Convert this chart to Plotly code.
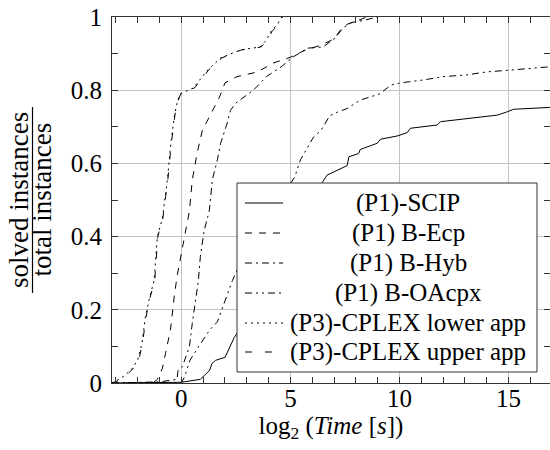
import plotly.graph_objects as go

# ---- data (log2 time, fraction solved) ----
scip_x = [-3.2, 0.0, 0.87, 1.3, 1.4, 1.57, 2.0, 2.25, 2.43, 2.57, 3.5, 4.5, 5.5, 6.45, 6.68, 7.6, 7.68, 8.13, 8.2, 8.98, 9.13, 9.9, 10.35, 10.5, 11.73, 11.88, 13.1, 14.5, 14.94, 15.24, 16.93]
scip_y = [0.0, 0.002, 0.01, 0.035, 0.053, 0.062, 0.07, 0.1, 0.125, 0.137, 0.25, 0.36, 0.46, 0.547, 0.568, 0.594, 0.618, 0.627, 0.638, 0.655, 0.666, 0.675, 0.684, 0.696, 0.705, 0.714, 0.723, 0.732, 0.741, 0.748, 0.753]

ecp_x = [-3.2, -1.3, -1.1, -0.87, -0.73, -0.5, -0.33, -0.2, -0.03, 0.14, 0.37, 0.5, 0.73, 0.96, 1.28, 1.5, 1.74, 2.0, 2.55, 3.5, 4.2, 5.0, 5.7, 6.4, 7.0, 7.3, 7.6, 8.07, 8.5]
ecp_y = [0.0, 0.0, 0.01, 0.04, 0.08, 0.145, 0.235, 0.29, 0.345, 0.40, 0.47, 0.555, 0.63, 0.69, 0.727, 0.755, 0.78, 0.82, 0.837, 0.85, 0.874, 0.89, 0.91, 0.923, 0.94, 0.965, 0.98, 0.99, 1.0]

hyb_x = [-3.2, -1.0, -0.2, -0.15, 0.05, 0.37, 0.5, 0.64, 0.78, 0.87, 1.05, 1.28, 1.42, 1.65, 1.8, 2.1, 2.25, 2.5, 3.3, 3.9, 4.6, 5.1, 5.8, 6.5, 7.06, 7.4, 7.8, 8.3, 9.0]
hyb_y = [0.0, 0.003, 0.01, 0.035, 0.045, 0.1, 0.163, 0.227, 0.28, 0.345, 0.418, 0.47, 0.555, 0.61, 0.655, 0.71, 0.745, 0.765, 0.8, 0.837, 0.865, 0.89, 0.915, 0.918, 0.943, 0.97, 0.985, 0.99, 1.0]

oa_x = [-3.2, 0.0, 0.14, 0.4, 0.8, 1.3, 1.65, 1.9, 2.1, 2.34, 2.57, 3.5, 4.5, 5.2, 5.46, 5.8, 6.06, 6.4, 6.8, 7.15, 7.6, 8.2, 9.1, 9.6, 10.05, 11.1, 12.0, 13.1, 14.0, 15.1, 16.9]
oa_y = [0.0, 0.0, 0.016, 0.063, 0.1, 0.145, 0.167, 0.208, 0.245, 0.28, 0.31, 0.41, 0.5, 0.563, 0.61, 0.645, 0.672, 0.69, 0.73, 0.74, 0.75, 0.773, 0.79, 0.814, 0.82, 0.828, 0.837, 0.842, 0.85, 0.855, 0.864]

low_x = [-3.2, -3.0, -2.6, -2.25, -2.0, -1.8, -1.65, -1.47, -1.25, -1.1, -0.87, -0.64, -0.5, -0.32, -0.18, -0.05, 0.55, 1.2, 1.8, 2.7, 3.6, 3.9, 4.1, 4.4, 4.6]
low_y = [0.0, 0.005, 0.02, 0.04, 0.063, 0.11, 0.18, 0.23, 0.28, 0.40, 0.45, 0.555, 0.645, 0.73, 0.77, 0.79, 0.806, 0.855, 0.888, 0.91, 0.918, 0.937, 0.96, 0.98, 1.0]

up_x = [-3.2, -2.95, -2.55, -2.2, -1.95, -1.78, -1.62, -1.45, -1.22, -1.08, -0.85, -0.62, -0.48, -0.3, -0.16, -0.03, 0.6, 1.25, 1.85, 2.75, 3.65, 3.95, 4.15, 4.45, 4.65]
up_y = [0.0, 0.005, 0.02, 0.04, 0.063, 0.11, 0.18, 0.23, 0.28, 0.40, 0.45, 0.555, 0.645, 0.73, 0.77, 0.79, 0.806, 0.855, 0.888, 0.91, 0.918, 0.937, 0.96, 0.98, 1.0]

names = ["(P1)-SCIP", "(P1) B-Ecp", "(P1) B-Hyb", "(P1) B-OAcpx",
         "(P3)-CPLEX lower app", "(P3)-CPLEX upper app"]
series_x = [scip_x, ecp_x, hyb_x, oa_x, low_x, up_x]
series_y = [scip_y, ecp_y, hyb_y, oa_y, low_y, up_y]
dashes = ["solid", "7px,7px", "7px,4px,2px,4px", "7px,4px,2px,4px,2px,4px",
          "2px,4px", "7px,13px"]

FONT = "Liberation Serif"
W, H = 550, 450
L, R, T, B = 112, 0, 17, 67
pw, ph = W - L - R, H - T - B

def px(x):
    return (x - L) / pw

def py(y):
    return (H - B - y) / ph

fig = go.Figure()
for nm, xs, ys, d in zip(names, series_x, series_y, dashes):
    fig.add_trace(go.Scatter(x=xs, y=ys, mode="lines", name=nm,
                             line=dict(color="black", width=1, dash=d),
                             showlegend=False))

shapes = []
annotations = []
# legend box
shapes.append(dict(type="rect", xref="paper", yref="paper",
                   x0=px(237), x1=px(537), y0=py(372), y1=py(183),
                   line=dict(color="#333", width=1), fillcolor="white", layer="above"))
rows = [203, 233, 263, 293, 323, 352]
for nm, d, ry in zip(names, dashes, rows):
    shapes.append(dict(type="line", xref="paper", yref="paper",
                       x0=px(245), x1=px(283), y0=py(ry), y1=py(ry),
                       line=dict(color="black", width=1, dash=d), layer="above"))
    annotations.append(dict(text=nm, xref="paper", yref="paper", x=px(408), y=py(ry),
                            xanchor="center", yanchor="middle", showarrow=False,
                            font=dict(family=FONT, size=25, color="black")))

# y-axis fraction title
annotations.append(dict(text="solved instances", xref="paper", yref="paper",
                        x=px(19), y=0.5, textangle=-90, showarrow=False,
                        xanchor="center", yanchor="middle",
                        font=dict(family=FONT, size=27, color="black")))
annotations.append(dict(text="total instances", xref="paper", yref="paper",
                        x=px(41.5), y=0.5, textangle=-90, showarrow=False,
                        xanchor="center", yanchor="middle",
                        font=dict(family=FONT, size=27, color="black")))
shapes.append(dict(type="line", xref="paper", yref="paper",
                   x0=px(32.5), x1=px(32.5), y0=py(293), y1=py(107),
                   line=dict(color="black", width=1.2)))

fig.update_layout(
    width=W, height=H,
    margin=dict(l=L, r=R, t=T, b=B, pad=0),
    plot_bgcolor="white", paper_bgcolor="white",
    font=dict(family=FONT, size=24, color="black"),
    shapes=shapes, annotations=annotations,
    showlegend=False,
)
fig.update_xaxes(range=[-3.18, 16.9], tickvals=[0, 5, 10, 15],
                 ticks="inside", ticklen=6, tickcolor="#333",
                 showline=True, linecolor="#333", linewidth=1, mirror="ticks",
                 showgrid=True, gridcolor="#c4c4c4", gridwidth=1, zeroline=False,
                 minor=dict(dtick=1, tick0=0, ticks="inside", ticklen=6, tickcolor="#333", showgrid=False),
                 ticklabelstandoff=-7,
                 title=dict(text="log<sub>2</sub> (<i>Time</i> [<i>s</i>])", standoff=3,
                            font=dict(family=FONT, size=25)),
                 tickfont=dict(family=FONT, size=25))
fig.update_yaxes(range=[0, 1], tickvals=[0, 0.2, 0.4, 0.6, 0.8, 1],
                 ticktext=["0", "0.2", "0.4", "0.6", "0.8", "1"],
                 ticks="inside", ticklen=6, tickcolor="#333",
                 showline=True, linecolor="#333", linewidth=1, mirror="ticks",
                 showgrid=True, gridcolor="#c4c4c4", gridwidth=1, zeroline=False,
                 minor=dict(dtick=0.1, tick0=0, ticks="inside", ticklen=6, tickcolor="#333", showgrid=False),
                 ticklabelstandoff=4,
                 tickfont=dict(family=FONT, size=25))

fig.write_html("out.html")
